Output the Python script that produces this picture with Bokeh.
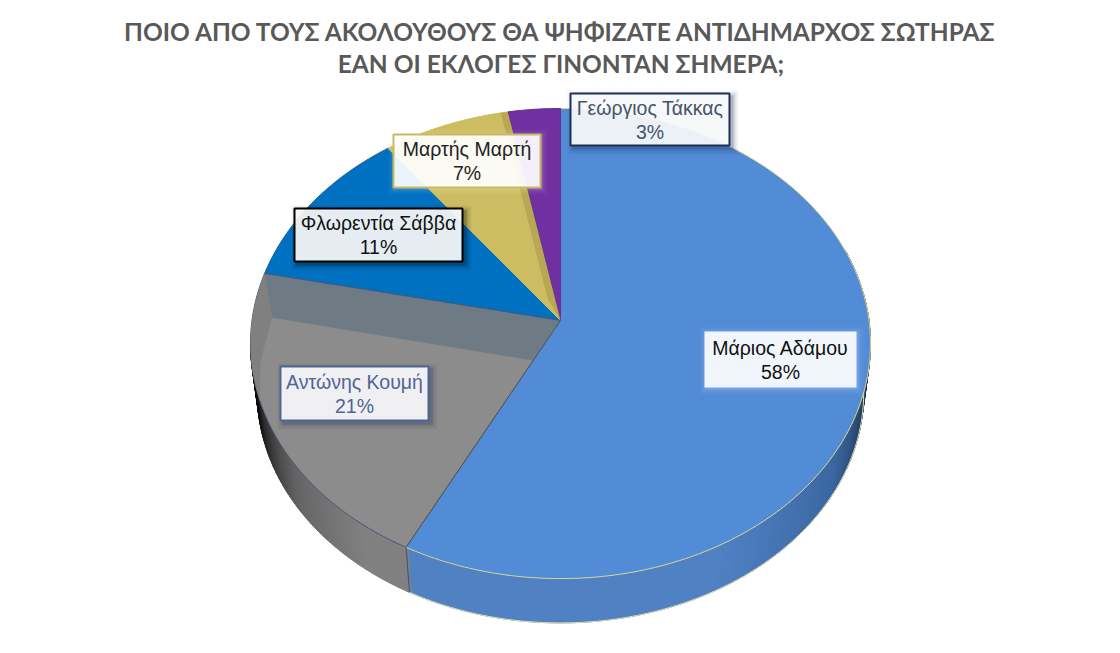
import math
from bokeh.plotting import figure
from bokeh.models import Range1d, ColumnDataSource
from bokeh.core.properties import value
from bokeh.embed import file_html
from bokeh.resources import INLINE

# ---- data
title_lines = ["ΠΟΙΟ ΑΠΟ ΤΟΥΣ ΑΚΟΛΟΥΘΟΥΣ ΘΑ ΨΗΦΙΖΑΤΕ ΑΝΤΙΔΗΜΑΡΧΟΣ ΣΩΤΗΡΑΣ",
               "ΕΑΝ ΟΙ ΕΚΛΟΓΕΣ ΓΙΝΟΝΤΑΝ ΣΗΜΕΡΑ;"]
names = ["Μάριος Αδάμου", "Αντώνης Κουμή", "Φλωρεντία Σάββα", "Μαρτής Μαρτή", "Γεώργιος Τάκκας"]
shares = [57.55, 20.75, 11.4, 7.3, 3.0]
slice_colors = ["#528bd6", "#8c8c8c", "#0070c0", "#cdbd62", "#7030a0"]
slice_edges = ["#d9d690", "#46587a", "#1f5f99", "#cdbd62", "#6a2c98"]

# ---- label styling: (left, right, top, bottom)
label_boxes = [(704, 856, 331, 387), (280, 428, 366, 420), (294, 462, 208, 261),
               (393, 540, 134, 187), (570, 729, 93, 145)]
label_border = [None, "#4f6596", "#000000", "#c9b95f", "#1f3058"]
label_text = ["#111111", "#4f6596", "#111111", "#222222", "#44546a"]
shadow_col = ["#ffffff", "#1f3058", "#000000", "#ffffff", "#1f3058"]

# ---- projection of the pie (pixel space of the page)
CX, CY = 560, 320
A, B, K = 232.8, 308.5, 0.098
DEPTH, SHRINK = 50, 0.978


def proj(frac, r=1.0, lower=False):
    a = 2 * math.pi * frac
    u, v = r * math.sin(a), r * math.cos(a)
    w = 1 + K * v
    s = SHRINK if lower else 1.0
    return CX + s * B * u / w, CY + (DEPTH if lower else 0) - s * A * v / w


def arc(f0, f1, r=1.0, lower=False, n=None):
    n = n or max(2, int(abs(f1 - f0) * 400))
    return [proj(f0 + (f1 - f0) * i / n, r, lower) for i in range(n + 1)]


def mix(c0, c1, t):
    t = max(0, min(1, t))
    return "#%02x%02x%02x" % tuple(round(a + (b - a) * t) for a, b in zip(c0, c1))


def wall_color(f):
    if f < cuts[0]:
        t = (f - 0.255) / 0.17
        if t < 0.5:
            return mix((14, 24, 40), (58, 102, 160), t / 0.5)
        return mix((58, 102, 160), (79, 129, 195), (t - 0.5) / 0.5)
    t = (f - 0.60) / 0.115
    if t < 0.45:
        return mix((128, 128, 128), (100, 100, 100), t / 0.45)
    return mix((100, 100, 100), (12, 12, 12), (t - 0.45) / 0.55)


cuts = []
acc = 0
for s in shares:
    acc += s / 100
    cuts.append(acc)
starts = [0] + cuts[:-1]

p = figure(width=1120, height=653, output_backend="svg", toolbar_location=None,
           x_range=Range1d(0, 1120), y_range=Range1d(653, 0), min_border=0,
           outline_line_color=None, background_fill_color="#ffffff",
           border_fill_color="#ffffff")
p.axis.visible = False
p.grid.visible = False

# side wall
xs, ys, cols = [], [], []
n = 240
f0, f1 = 0.20, 0.735
for i in range(n):
    a = f0 + (f1 - f0) * i / n
    b = f0 + (f1 - f0) * (i + 1) / n
    q = [proj(a), proj(b), proj(b, lower=True), proj(a, lower=True)]
    xs.append([c[0] for c in q])
    ys.append([c[1] for c in q])
    cols.append(wall_color((a + b) / 2))
p.patches(xs, ys, fill_color=cols, line_color=cols, line_width=1)

# wall seam and lower rim
seam = [proj(cuts[0]), proj(cuts[0], lower=True)]
p.line([c[0] for c in seam], [c[1] for c in seam], line_color="#3c5a88", line_width=1.2)
rim = arc(cuts[0], 0.24, lower=True)
p.line([c[0] for c in rim], [c[1] for c in rim], line_color="#e4e0a8", line_width=1)

# slices
for s0, s1, col, edge in zip(starts, cuts, slice_colors, slice_edges):
    pts = [(CX, CY)] + arc(s0, s1)
    p.patch([c[0] for c in pts], [c[1] for c in pts], fill_color=col, line_color=edge, line_width=1)

# shading inside the grey slice
strip = arc(cuts[1], 0.696) + [proj(0.722, 0.971), proj(0.752, 0.936)]
p.patch([c[0] for c in strip], [c[1] for c in strip], fill_color="#808080", line_color=None)
band = [proj(cuts[1]), (CX, CY), proj(cuts[0], 0.19), proj(0.752, 0.936)]
p.patch([c[0] for c in band], [c[1] for c in band], fill_color="#6f7b84", line_color=None)
p.line([proj(cuts[1])[0], CX], [proj(cuts[1])[1], CY], line_color="#46587a", line_width=0.8)
sp = [proj(cuts[0]), (CX, CY)]
p.line([c[0] for c in sp], [c[1] for c in sp], line_color="#4a5560", line_width=1)

# shading inside the gold slice
wedge = [proj(0.966), proj(cuts[3]), (CX, CY), proj(0.933, 0.103)]
p.patch([c[0] for c in wedge], [c[1] for c in wedge], fill_color="#b8a854", line_color=None)

# label shadows, boxes
for box, sc, bc in zip(label_boxes, shadow_col, label_border):
    l, r, t, b = box
    light = sc == "#ffffff"
    layers = ((6, 0.03), (4, 0.05), (2, 0.07), (1, 0.08)) if light else ((6, 0.05), (4, 0.08), (2, 0.12), (1, 0.14))
    off = 1 if light else 3
    for grow, alpha in layers:
        p.quad(left=[l - grow + off], right=[r + grow + off], top=[t - grow + off], bottom=[b + grow + off],
               fill_color=sc, fill_alpha=alpha, line_color=None)
    p.quad(left=[l], right=[r], top=[t], bottom=[b], fill_color="#ffffff", fill_alpha=0.9,
           line_color=bc, line_width=2 if bc else 0)

# label texts
cx = [(b[0] + b[1]) / 2 for b in label_boxes]
src1 = ColumnDataSource(dict(x=cx, y=[(b[2] + b[3]) / 2 - 12 for b in label_boxes], t=names, c=label_text))
src2 = ColumnDataSource(dict(x=cx, y=[(b[2] + b[3]) / 2 + 12 for b in label_boxes],
                             t=[f"{round(s)}%" for s in shares], c=label_text))
for src in (src1, src2):
    p.text("x", "y", text="t", source=src, text_color="c", text_align="center", text_baseline="middle",
           text_font=value("Liberation Sans"), text_font_size="19.5px")

# title
p.text(x=[560.5, 560.5], y=[31, 63], text=title_lines, text_color="#595959", text_align="center",
       text_baseline="middle", text_font=value("Lato"), text_font_style="bold",
       text_font_size="24.5px")

open("out.html", "w").write(file_html(p, INLINE))
